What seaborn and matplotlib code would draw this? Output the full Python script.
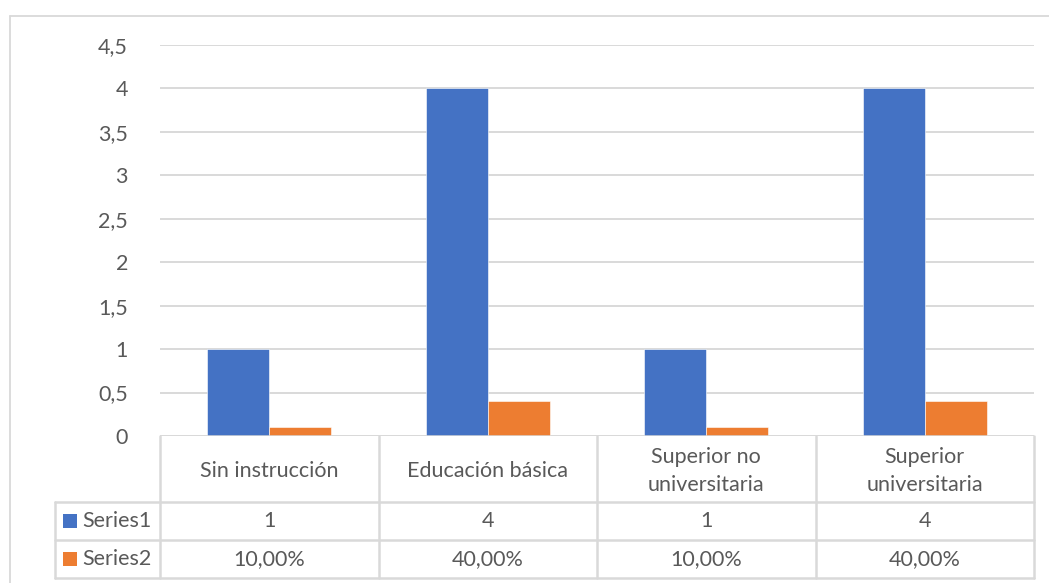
import matplotlib
matplotlib.use("Agg")
import matplotlib.pyplot as plt
import matplotlib.transforms as mtransforms
from matplotlib.lines import Line2D
from matplotlib.patches import Rectangle
from matplotlib.ticker import FuncFormatter, MultipleLocator
import pandas as pd
import seaborn as sns

# Data
categories = ["Sin instrucción", "Educación básica",
              "Superior no universitaria", "Superior universitaria"]
category_labels = ["Sin instrucción", "Educación básica",
                   "Superior no\nuniversitaria", "Superior\nuniversitaria"]
series1 = [1, 4, 1, 4]
series2 = [0.10, 0.40, 0.10, 0.40]
series_names = ["Series1", "Series2"]

BLUE = "#4472C4"
ORANGE = "#ED7D31"
GRID = "#D9D9D9"
TEXT = "#595959"

df = pd.DataFrame({
    "categoria": categories * 2,
    "valor": series1 + series2,
    "serie": [series_names[0]] * 4 + [series_names[1]] * 4,
})

sns.set_theme(style="white")
plt.rcParams["font.family"] = ["Lato", "DejaVu Sans"]
FS = 15.5

W, H = 1049, 583
fig = plt.figure(figsize=(W / 100, H / 100), dpi=100)

# plot area in pixel units (left, top, right, bottom)
pl, pt, pr, pb = 160, 45, 1034, 436
ax = fig.add_axes([pl / W, 1 - pb / H, (pr - pl) / W, (pb - pt) / H])

sns.barplot(data=df, x="categoria", y="valor", hue="serie",
            palette=[BLUE, ORANGE], saturation=1, width=0.567, gap=0,
            edgecolor="white", linewidth=0.4, legend=False, ax=ax, zorder=3)

ax.set_xlim(-0.5, len(categories) - 0.5)
ax.set_ylim(0, 4.5)
ax.yaxis.set_major_locator(MultipleLocator(0.5))
ax.yaxis.set_major_formatter(FuncFormatter(lambda v, _: f"{v:g}".replace(".", ",")))
ax.grid(axis="y", color=GRID, linewidth=1.4, zorder=0)
ax.set_xticks([])
ax.set_xlabel("")
ax.set_ylabel("")
ax.tick_params(axis="y", length=0, pad=23, labelsize=FS, labelcolor=TEXT)
for s in ax.spines.values():
    s.set_visible(False)
ax.axhline(0, color=GRID, linewidth=1.8, zorder=4)


def fy(py):
    return 1 - py / H


def fx(px):
    return px / W


lw = 1.8
# outer chart frame
fig.add_artist(Line2D([fx(10), fx(10)], [fy(16), fy(H + 5)], color=GRID, lw=1.3))
fig.add_artist(Line2D([fx(10), fx(W + 5)], [fy(16), fy(16)], color=GRID, lw=1.3))

# data table below the plot area
row_y = [436, 502, 540, 578]
col_x = [pl + (pr - pl) * i / len(categories) for i in range(len(categories) + 1)]
leg_x = 55

for x in col_x:
    fig.add_artist(Line2D([fx(x), fx(x)], [fy(436), fy(578)], color=GRID, lw=lw))
fig.add_artist(Line2D([fx(leg_x), fx(leg_x)], [fy(502), fy(578)], color=GRID, lw=lw))
for y in row_y[1:]:
    fig.add_artist(Line2D([fx(leg_x), fx(pr)], [fy(y), fy(y)], color=GRID, lw=lw))

# header row with category names
trans = mtransforms.blended_transform_factory(ax.transData, fig.transFigure)
for i, lab in enumerate(category_labels):
    ax.text(i, fy((row_y[0] + row_y[1]) / 2 + 2), lab, transform=trans,
            ha="center", va="center", fontsize=FS, color=TEXT,
            linespacing=1.55, clip_on=False)

# value rows
row_values = [
    [f"{v:g}" for v in series1],
    [f"{v * 100:.2f}%".replace(".", ",") for v in series2],
]
for r, (vals, name, col) in enumerate(zip(row_values, series_names, [BLUE, ORANGE])):
    yc = (row_y[r + 1] + row_y[r + 2]) / 2
    for i, v in enumerate(vals):
        ax.text(i, fy(yc), v, transform=trans, ha="center", va="center",
                fontsize=FS, color=TEXT, clip_on=False)
    fig.add_artist(Rectangle((fx(63), fy(yc + 7)), 14 / W, 14 / H,
                             facecolor=col, edgecolor="none"))
    fig.text(fx(82), fy(yc), name, ha="left", va="center",
             fontsize=FS, color=TEXT)

fig.savefig("out.png", dpi=100, facecolor="white")
